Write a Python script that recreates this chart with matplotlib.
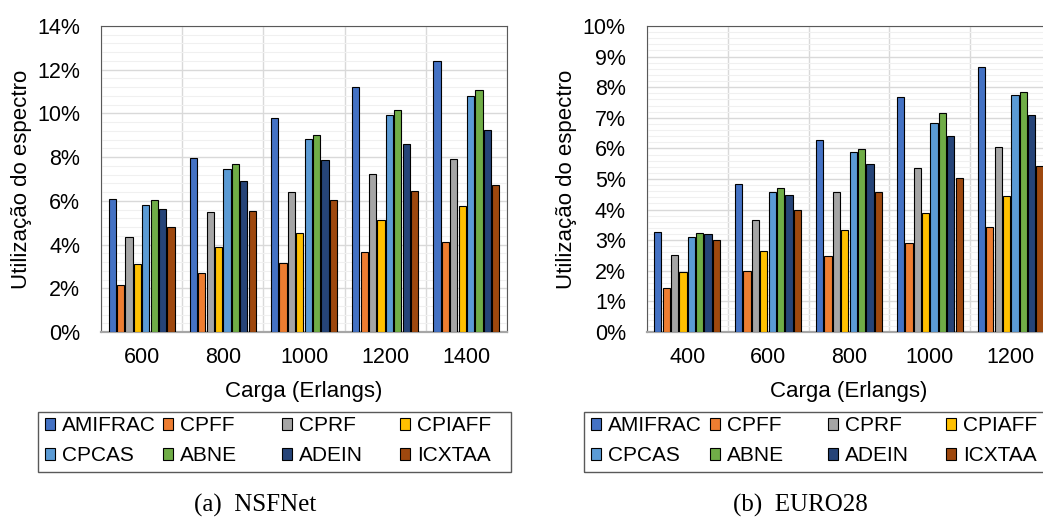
import numpy as np
import matplotlib.pyplot as plt
from matplotlib.patches import Rectangle
from matplotlib.ticker import MultipleLocator, PercentFormatter

plt.rcParams['font.family'] = ['Liberation Sans', 'DejaVu Sans']

W, H = 1043, 522

# --- data (percent of spectrum used) ---
algorithms = ['AMIFRAC', 'CPFF', 'CPRF', 'CPIAFF', 'CPCAS', 'ABNE', 'ADEIN', 'ICXTAA']
colors = ['#4472C4', '#ED7D31', '#A5A5A5', '#FFC000', '#5B9BD5', '#70AD47', '#264478', '#9E480E']

nsf_loads = ['600', '800', '1000', '1200', '1400']
nsf_values = {
    'AMIFRAC': [6.08, 7.97, 9.77, 11.20, 12.40],
    'CPFF':    [2.13, 2.70, 3.15, 3.66, 4.11],
    'CPRF':    [4.34, 5.48, 6.41, 7.22, 7.92],
    'CPIAFF':  [3.09, 3.87, 4.52, 5.13, 5.76],
    'CPCAS':   [5.79, 7.46, 8.82, 9.93, 10.82],
    'ABNE':    [6.02, 7.69, 9.00, 10.15, 11.08],
    'ADEIN':   [5.65, 6.92, 7.86, 8.59, 9.23],
    'ICXTAA':  [4.81, 5.53, 6.03, 6.44, 6.72],
}

euro_loads = ['400', '600', '800', '1000', '1200']
euro_values = {
    'AMIFRAC': [3.26, 4.83, 6.29, 7.69, 8.67],
    'CPFF':    [1.44, 1.98, 2.47, 2.91, 3.42],
    'CPRF':    [2.51, 3.66, 4.57, 5.35, 6.03],
    'CPIAFF':  [1.97, 2.66, 3.32, 3.88, 4.44],
    'CPCAS':   [3.09, 4.57, 5.89, 6.84, 7.76],
    'ABNE':    [3.23, 4.72, 5.97, 7.16, 7.85],
    'ADEIN':   [3.20, 4.47, 5.48, 6.40, 7.08],
    'ICXTAA':  [3.01, 3.99, 4.59, 5.02, 5.43],
}


def draw_panel(ax, loads, values, ymax, ystep, yminor, ylabel_x):
    x = np.arange(len(loads))
    step, width = 0.1036, 0.09
    for i, name in enumerate(algorithms):
        ax.bar(x + (i - 3.5) * step, values[name], width, color=colors[i],
               edgecolor='black', linewidth=0.8, label=name, zorder=3)

    ax.set_xlim(-0.5, len(loads) - 0.5)
    ax.set_ylim(0, ymax)
    ax.set_xticks(x)
    ax.set_xticklabels(loads)
    ax.set_xticks(np.arange(len(loads) + 1) - 0.5, minor=True)
    ax.yaxis.set_major_locator(MultipleLocator(ystep))
    ax.yaxis.set_minor_locator(MultipleLocator(yminor))
    ax.yaxis.set_major_formatter(PercentFormatter(decimals=0))

    ax.grid(True, axis='x', which='minor', color='#D9D9D9', lw=1)
    ax.grid(True, axis='y', which='major', color='#D9D9D9', lw=1)
    ax.grid(True, axis='y', which='minor', color='#F0F0F0', lw=0.8)
    ax.set_axisbelow(True)

    ax.tick_params(which='both', length=0)
    ax.tick_params(axis='x', pad=11, labelsize=15.5)
    ax.tick_params(axis='y', pad=15, labelsize=15.5)

    for side in ['top', 'left', 'right']:
        ax.spines[side].set_color('#595959')
        ax.spines[side].set_linewidth(0.8)
    ax.spines['bottom'].set_color('#A6A6A6')
    ax.spines['bottom'].set_linewidth(1.6)

    ax.set_xlabel('Carga (Erlangs)', fontsize=16)
    ax.xaxis.label.set_va('center')
    ax.xaxis.set_label_coords(0.5, -0.195)
    ax.set_ylabel('Utilização do espectro', fontsize=16)
    ax.yaxis.label.set_va('center')
    ax.yaxis.set_label_coords(ylabel_x, 0.5)


def draw_legend(fig, ax, left, right, top, bottom, col_x):
    # Excel-style legend: framed box, four evenly spaced columns, two rows
    handles, labels = ax.get_legend_handles_labels()
    frame = Rectangle((left / W, 1 - bottom / H), (right - left) / W, (bottom - top) / H,
                      transform=fig.transFigure, fill=False, edgecolor='#595959', lw=1)
    fig.patches.append(frame)
    for j, cx in enumerate(col_x):
        fig.legend([handles[j], handles[j + 4]], [labels[j], labels[j + 4]],
                   loc='upper left', bbox_to_anchor=(cx / W, 1 - 416 / H),
                   bbox_transform=fig.transFigure, frameon=False,
                   borderpad=0, borderaxespad=0, handlelength=0.5, handleheight=0.5,
                   handletextpad=0.3, labelspacing=0.53, fontsize=15)


fig = plt.figure(figsize=(W / 100, H / 100), dpi=100)
ax1 = fig.add_axes([101 / W, (H - 332) / H, 406 / W, 306 / H])
ax2 = fig.add_axes([646.7 / W, (H - 332) / H, 404.5 / W, 306 / H])

draw_panel(ax1, nsf_loads, nsf_values, 14, 2, 0.4, -0.197)
draw_panel(ax2, euro_loads, euro_values, 10, 1, 0.2, -0.1995)

draw_legend(fig, ax1, 38, 511, 412, 472, [45, 163, 282, 400])
draw_legend(fig, ax2, 584, 1057, 412, 472, [591, 710, 828, 946])

fig.text(255 / W, 1 - 505 / H, '(a)  NSFNet', ha='center', va='center',
         family='Liberation Serif', fontsize=18)
fig.text(800 / W, 1 - 505 / H, '(b)  EURO28', ha='center', va='center',
         family='Liberation Serif', fontsize=18)

fig.savefig('out.png', dpi=100)
